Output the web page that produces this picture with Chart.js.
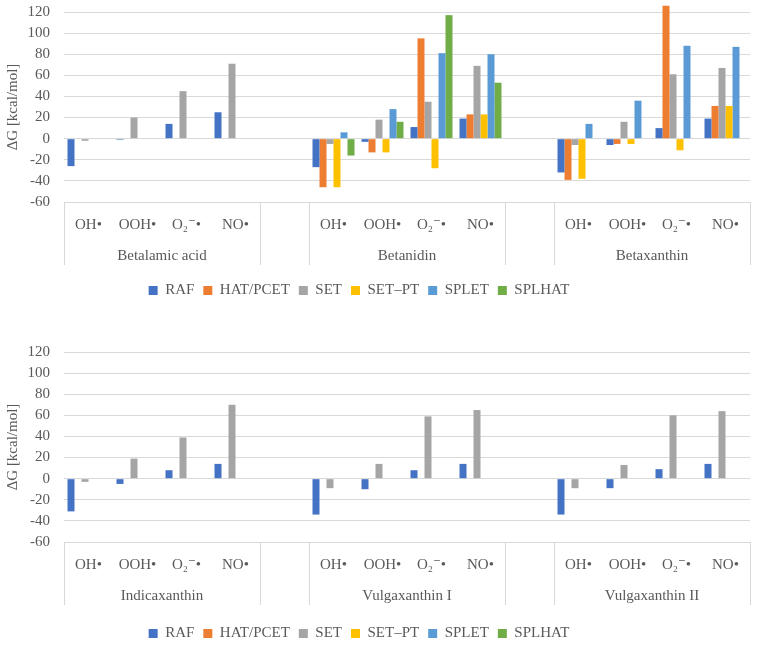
<!DOCTYPE html>
<html>
<head>
<meta charset="utf-8">
<script src="https://cdn.jsdelivr.net/npm/chart.js@4.4.1/dist/chart.umd.min.js"></script>
<style>
  html, body { margin: 0; padding: 0; background: #fff; overflow: hidden; width: 758px; height: 646px; }
  .panel { position: absolute; left: 0; width: 758px; }
  #p1 { top: 0; height: 320px; }
  #p2 { top: 320px; height: 339px; }
</style>
</head>
<body>
<div class="panel" id="p1"><canvas id="c1" width="758" height="320"></canvas></div>
<div class="panel" id="p2"><canvas id="c2" width="758" height="339"></canvas></div>
<script>
// ---- data ----
const radicals = ['OH•', 'OOH•', 'O₂⁻•', 'NO•'];
const topCompounds = ['Betalamic acid', 'Betanidin', 'Betaxanthin'];
const bottomCompounds = ['Indicaxanthin', 'Vulgaxanthin I', 'Vulgaxanthin II'];
const seriesNames = ['RAF', 'HAT/PCET', 'SET', 'SET–PT', 'SPLET', 'SPLHAT'];
const yTicks = [-60, -40, -20, 0, 20, 40, 60, 80, 100, 120];

// top panel (14 slots: 4 radicals, gap, 4 radicals, gap, 4 radicals)
const topRAF    = [-26, -1, 14, 25, null, -27, -3, 11, 19, null, -32, -6, 10, 19];
const topHAT    = [null, null, null, null, null, -46, -13, 95, 23, null, -39, -5, 126, 31];
const topSET    = [-2, 20, 45, 71, null, -5, 18, 35, 69, null, -6, 16, 61, 67];
const topSETPT  = [null, null, null, null, null, -46, -13, -28, 23, null, -38, -5, -11, 31];
const topSPLET  = [null, null, null, null, null, 6, 28, 81, 80, null, 14, 36, 88, 87];
const topSPLHAT = [null, null, null, null, null, -16, 16, 117, 53, null, null, null, null, null];

// bottom panel
const botRAF    = [-31, -5, 8, 14, null, -34, -10, 8, 14, null, -34, -9, 9, 14];
const botHAT    = [null, null, null, null, null, null, null, null, null, null, null, null, null, null];
const botSET    = [-3, 19, 39, 70, null, -9, 14, 59, 65, null, -9, 13, 60, 64];
const botSETPT  = [null, null, null, null, null, null, null, null, null, null, null, null, null, null];
const botSPLET  = [null, null, null, null, null, null, null, null, null, null, null, null, null, null];
const botSPLHAT = [null, null, null, null, null, null, null, null, null, null, null, null, null, null];

const colors = ['#4472C4', '#ED7D31', '#A5A5A5', '#FFC000', '#5B9BD5', '#70AD47'];
const FONT = "'Liberation Serif', 'DejaVu Serif', serif";
const TXT = '#595959';
const GRID = '#D9D9D9';

function buildLabels() {
  const l = [];
  for (let g = 0; g < 3; g++) {
    radicals.forEach(r => l.push(r));
    if (g < 2) l.push('');
  }
  return l;
}

const groupPlugin = {
  id: 'groupAxis',
  afterDraw(chart, args, opts) {
    const {ctx, chartArea} = chart;
    const x = chart.scales.x;
    const px = i => x.getPixelForValue(i);
    const bounds = [chartArea.left,
      (px(3) + px(4)) / 2, (px(4) + px(5)) / 2,
      (px(8) + px(9)) / 2, (px(9) + px(10)) / 2,
      chartArea.right];
    ctx.save();
    ctx.strokeStyle = GRID;
    ctx.lineWidth = 1;
    bounds.forEach(b => {
      const bx = Math.round(b) + 0.5;
      ctx.beginPath();
      ctx.moveTo(bx, chartArea.bottom);
      ctx.lineTo(bx, chartArea.bottom + 63);
      ctx.stroke();
    });
    ctx.fillStyle = TXT;
    ctx.font = "15px " + FONT;
    ctx.textAlign = 'center';
    ctx.textBaseline = 'middle';
    const starts = [0, 5, 10];
    opts.names.forEach((n, g) => {
      const cx = (px(starts[g]) + px(starts[g] + 3)) / 2;
      ctx.fillText(n, cx, chartArea.bottom + 54);
    });
    ctx.restore();
  }
};

function makeChart(id, series, names, padTop, axisH, padBottom) {
  const datasets = series.map((d, i) => ({
    label: seriesNames[i],
    data: d,
    backgroundColor: colors[i],
    borderWidth: 0,
    categoryPercentage: 0.857,
    barPercentage: 1.0,
    clip: false
  }));
  return new Chart(document.getElementById(id), {
    type: 'bar',
    data: { labels: buildLabels(), datasets },
    plugins: [groupPlugin],
    options: {
      responsive: false,
      animation: false,
      layout: { padding: { top: padTop, right: 8, left: -32, bottom: padBottom } },
      plugins: {
        groupAxis: { names },
        legend: {
          position: 'bottom',
          labels: {
            font: { size: 15, family: FONT },
            color: TXT,
            boxWidth: 9,
            boxHeight: 9,
            padding: 9
          }
        },
        tooltip: { enabled: false }
      },
      scales: {
        x: {
          offset: true,
          grid: { display: false },
          border: { display: false },
          ticks: {
            autoSkip: false, maxRotation: 0, minRotation: 0,
            color: TXT, padding: 6,
            font: { size: 15, family: FONT }
          },
          afterFit(s) { s.height = axisH; }
        },
        y: {
          min: -60, max: 120,
          afterBuildTicks(s) { s.ticks = yTicks.map(v => ({ value: v })); },
          grid: { color: GRID, lineWidth: 1, drawTicks: true, tickLength: 14, tickColor: 'rgba(0,0,0,0)' },
          border: { display: false },
          ticks: {
            autoSkip: false,
            color: TXT, padding: 0,
            font: { size: 15, family: FONT }
          },
          title: {
            display: true, text: 'ΔG [kcal/mol]', color: TXT,
            font: { size: 15, family: FONT }, padding: { top: 36, bottom: 0 }
          },
          afterFit(s) { s.width = 96; }
        }
      }
    }
  });
}

makeChart('c1', [topRAF, topHAT, topSET, topSETPT, topSPLET, topSPLHAT], topCompounds, 12, 72, 12);
makeChart('c2', [botRAF, botHAT, botSET, botSETPT, botSPLET, botSPLHAT], bottomCompounds, 32, 75, 8);
</script>
</body>
</html>
